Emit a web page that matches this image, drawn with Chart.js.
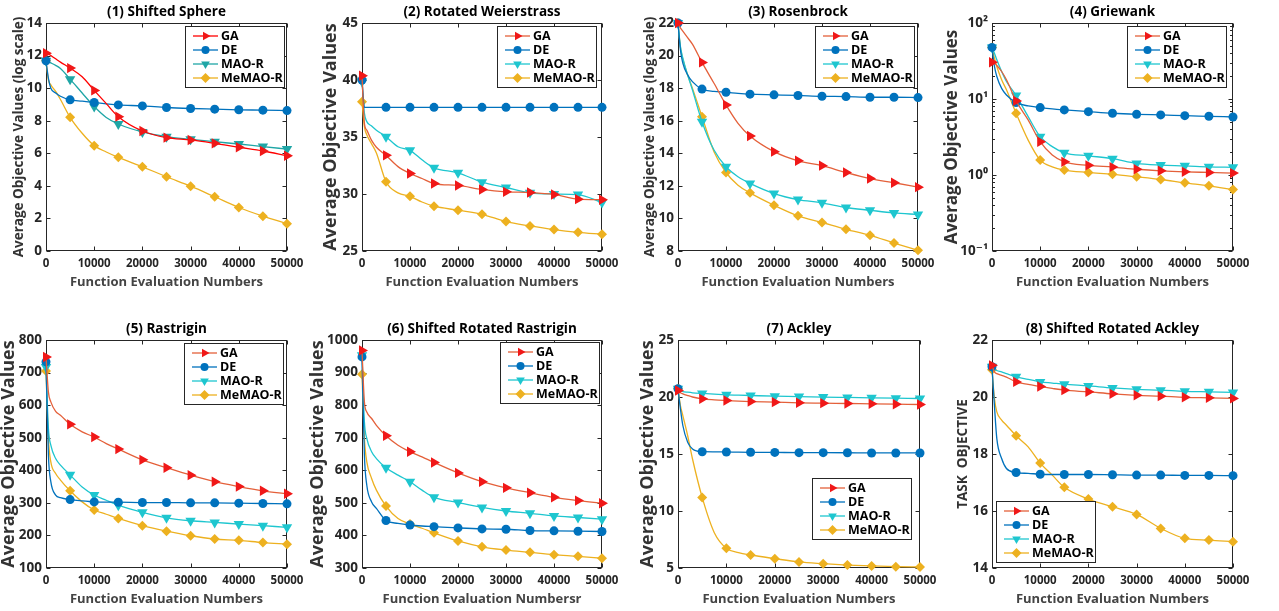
<!DOCTYPE html>
<html>
<head>
<meta charset="UTF-8">
<title>Convergence curves</title>
<script src="https://cdn.jsdelivr.net/npm/chart.js"></script>
<style>
  body { margin: 0; background: #fff; width: 1279px; height: 611px; position: relative; overflow: hidden; }
  .cell { position: absolute; }
</style>
</head>
<body>
<script>
// x positions (function evaluations); markers every 5000
const evals = [0, 500, 1000, 2000, 3000, 5000, 7500, 10000, 12500, 15000, 20000, 25000, 30000, 35000, 40000, 45000, 50000];
const methods = ['GA', 'DE', 'MAO-R', 'MeMAO-R'];
const xTicks = [0, 10000, 20000, 30000, 40000, 50000];
const logTickLabels = ['10⁻¹', '10⁰', '10¹', '10²'];

// (1) Shifted Sphere
const sphereGA    = [12.15, 12.1, 12.0, 11.8, 11.6, 11.23, 10.7, 9.86, 9.05, 8.25, 7.37, 6.96, 6.82, 6.61, 6.37, 6.14, 5.85];
const sphereDE    = [11.68, 10.6, 10.0, 9.7, 9.5, 9.28, 9.2, 9.12, 9.04, 8.97, 8.91, 8.81, 8.75, 8.71, 8.67, 8.65, 8.62];
const sphereMAO   = [11.68, 11.62, 11.55, 11.4, 11.2, 10.55, 9.7, 8.87, 8.2, 7.8, 7.31, 7.02, 6.86, 6.71, 6.57, 6.41, 6.26];
const sphereMeMAO = [11.68, 10.5, 10.2, 9.8, 9.3, 8.21, 7.23, 6.47, 6.08, 5.75, 5.17, 4.56, 3.98, 3.33, 2.67, 2.14, 1.68];

// (2) Rotated Weierstrass
const weierGA    = [40.37, 36.2, 35.6, 34.7, 34.1, 33.39, 32.4, 31.8, 31.36, 30.92, 30.75, 30.4, 30.19, 30.13, 29.96, 29.55, 29.5];
const weierDE    = [40.0, 37.6, 37.6, 37.6, 37.6, 37.6, 37.6, 37.6, 37.6, 37.6, 37.6, 37.6, 37.6, 37.6, 37.6, 37.6, 37.6];
const weierMAO   = [39.87, 37.1, 36.35, 35.97, 35.6, 35.03, 34.15, 33.83, 33.0, 32.3, 31.86, 31.04, 30.57, 30.1, 30.0, 29.95, 29.25];
const weierMeMAO = [38.1, 35.9, 35.2, 34.4, 33.6, 31.07, 30.1, 29.8, 29.3, 28.93, 28.58, 28.22, 27.58, 27.2, 26.88, 26.64, 26.47];

// (3) Rosenbrock
const rosenGA    = [22.0, 21.7, 21.5, 21.1, 20.7, 19.58, 18.3, 16.97, 15.84, 15.06, 14.1, 13.54, 13.24, 12.82, 12.45, 12.19, 11.92];
const rosenDE    = [22.0, 20.36, 19.54, 18.82, 18.4, 17.94, 17.8, 17.75, 17.68, 17.63, 17.59, 17.55, 17.5, 17.48, 17.44, 17.44, 17.42];
const rosenMAO   = [22.0, 20.56, 19.85, 18.82, 17.9, 15.94, 14.2, 13.17, 12.56, 12.15, 11.53, 11.16, 10.96, 10.67, 10.5, 10.34, 10.24];
const rosenMeMAO = [22.0, 20.5, 19.78, 18.82, 18.0, 16.25, 14.1, 12.82, 12.04, 11.57, 10.81, 10.16, 9.75, 9.33, 8.96, 8.49, 8.04];

// (4) Griewank (log axis)
const griewGA    = [30.5, 29.5, 27.6, 23.0, 17.9, 9.44, 5.3, 2.74, 1.83, 1.49, 1.34, 1.27, 1.19, 1.135, 1.10, 1.08, 1.06];
const griewDE    = [47.7, 27.0, 19.8, 13.8, 11.3, 8.98, 8.1, 7.71, 7.4, 7.18, 6.82, 6.49, 6.29, 6.17, 6.04, 5.92, 5.8];
const griewMAO   = [47.7, 40.0, 32.8, 23.0, 17.0, 11.1, 5.86, 3.19, 2.36, 1.96, 1.79, 1.64, 1.42, 1.35, 1.32, 1.28, 1.26];
const griewMeMAO = [47.7, 34.5, 26.8, 17.9, 13.2, 6.49, 2.88, 1.57, 1.28, 1.16, 1.08, 1.02, 0.946, 0.873, 0.789, 0.72, 0.644];

// (5) Rastrigin
const rastGA    = [748, 640, 610, 581, 569, 541, 518, 502, 482, 465, 432, 408, 385, 365, 350, 337, 328];
const rastDE    = [733, 446, 365, 324, 316, 310, 306, 303, 302, 302, 301, 301, 300, 300, 299, 298, 297];
const rastMAO   = [717, 528, 477, 436, 416, 386, 349, 324, 308, 293, 271, 254, 245, 240, 235, 230, 225];
const rastMeMAO = [705, 497, 426, 390, 370, 337, 303, 278, 265, 252, 230, 213, 199, 189, 185, 178, 173];

// (6) Shifted Rotated Rastrigin
const srRastGA    = [968, 810, 779, 759, 738, 706, 677, 657, 641, 624, 592, 565, 546, 531, 517, 507, 499];
const srRastDE    = [948, 646, 554, 503, 483, 446, 437, 432, 429, 427, 423, 420, 419, 415, 414, 413, 412];
const srRastMAO   = [953, 749, 698, 657, 636, 608, 585, 565, 539, 517, 501, 486, 475, 468, 460, 455, 450];
const srRastMeMAO = [895, 698, 626, 575, 539, 490, 452, 435, 422, 408, 383, 365, 355, 348, 341, 336, 330];

// (7) Ackley
const ackGA    = [20.57, 20.38, 20.28, 20.13, 20.0, 19.84, 19.75, 19.69, 19.64, 19.6, 19.55, 19.49, 19.46, 19.43, 19.4, 19.37, 19.34];
const ackDE    = [20.72, 18.96, 17.5, 16.03, 15.44, 15.2, 15.19, 15.18, 15.16, 15.15, 15.14, 15.12, 15.12, 15.11, 15.09, 15.09, 15.09];
const ackMAO   = [20.72, 20.55, 20.48, 20.42, 20.37, 20.31, 20.25, 20.19, 20.16, 20.13, 20.07, 20.04, 19.99, 19.96, 19.93, 19.9, 19.87];
const ackMeMAO = [20.72, 19.25, 18.37, 16.6, 14.56, 11.19, 8.1, 6.73, 6.35, 6.14, 5.82, 5.53, 5.38, 5.26, 5.18, 5.12, 5.09];

// (8) Shifted Rotated Ackley
const srAckGA    = [21.11, 20.88, 20.82, 20.76, 20.7, 20.53, 20.44, 20.37, 20.3, 20.24, 20.18, 20.11, 20.06, 20.03, 19.99, 19.97, 19.95];
const srAckDE    = [21.06, 19.71, 18.54, 17.84, 17.49, 17.35, 17.32, 17.29, 17.28, 17.28, 17.28, 17.27, 17.26, 17.26, 17.25, 17.25, 17.24];
const srAckMAO   = [21.06, 20.97, 20.93, 20.88, 20.82, 20.71, 20.62, 20.53, 20.49, 20.45, 20.39, 20.32, 20.27, 20.24, 20.2, 20.18, 20.16];
const srAckMeMAO = [20.96, 19.95, 19.48, 19.19, 19.01, 18.64, 18.25, 17.68, 17.26, 16.83, 16.42, 16.15, 15.88, 15.39, 15.04, 14.98, 14.92];

const FONT = "'Open Sans', 'DejaVu Sans', sans-serif";
Chart.defaults.font.family = FONT;

// panel layout: plot = [left, top, right, bottom] in page px, ytx = centre of y title
const panels = [
  { title: '(1) Shifted Sphere', ytitle: 'Average Objective Values (log scale)', yfs: 13.5, ytx: 20,
    plot: [46, 23, 287, 251], y: [0, 14, 2], series: [sphereGA, sphereDE, sphereMAO, sphereMeMAO],
    legend: [185, 26], gaLine: '#FF0000', mao: '#1FA6A6', xtitle: 'Function Evaluation Numbers' },
  { title: '(2) Rotated Weierstrass', ytitle: 'Average Objective Values', yfs: 18, ytx: 331.5,
    plot: [362, 23, 602, 251], y: [25, 45, 5], series: [weierGA, weierDE, weierMAO, weierMeMAO],
    legend: [497, 26], gaLine: '#E4603A', mao: '#1EC6CF', xtitle: 'Function Evaluation Numbers' },
  { title: '(3) Rosenbrock', ytitle: 'Average Objective Values (log scale)', yfs: 13.5, ytx: 650.5,
    plot: [678, 23, 918, 251], y: [8, 22, 2], series: [rosenGA, rosenDE, rosenMAO, rosenMeMAO],
    legend: [815, 26], gaLine: '#E4603A', mao: '#1EC6CF', xtitle: 'Function Evaluation Numbers' },
  { title: '(4) Griewank', ytitle: 'Average Objective Values', yfs: 17, ytx: 952.5, log: true,
    plot: [992, 23, 1233, 251], y: [0.1, 100], series: [griewGA, griewDE, griewMAO, griewMeMAO],
    legend: [1127, 26], gaLine: '#E4603A', mao: '#1EC6CF', xtitle: 'Function Evaluation Numbers' },
  { title: '(5) Rastrigin', ytitle: 'Average Objective Values', yfs: 18, ytx: 9,
    plot: [46, 340, 287, 568], y: [100, 800, 100], series: [rastGA, rastDE, rastMAO, rastMeMAO],
    legend: [184, 343], gaLine: '#E4603A', mao: '#1EC6CF', xtitle: 'Function Evaluation Numbers' },
  { title: '(6) Shifted Rotated Rastrigin', ytitle: 'Average Objective Values', yfs: 18, ytx: 318,
    plot: [362, 340, 602, 568], y: [300, 1000, 100], series: [srRastGA, srRastDE, srRastMAO, srRastMeMAO],
    legend: [500, 342], gaLine: '#E4603A', mao: '#1EC6CF', xtitle: 'Function Evaluation Numbersr' },
  { title: '(7) Ackley', ytitle: 'Average Objective Values', yfs: 18, ytx: 648.5,
    plot: [678, 340, 920, 568], y: [5, 25, 5], series: [ackGA, ackDE, ackMAO, ackMeMAO],
    legend: [812, 478], gaLine: '#E4603A', mao: '#1EC6CF', xtitle: 'Function Evaluation Numbers' },
  { title: '(8) Shifted Rotated Ackley', ytitle: 'TASK  OBJECTIVE', yfs: 13.5, ytx: 964,
    plot: [992, 340, 1233, 568], y: [14, 22, 2], series: [srAckGA, srAckDE, srAckMAO, srAckMeMAO],
    legend: [996, 501], gaLine: '#E4603A', mao: '#1EC6CF', xtitle: 'Function Evaluation Numbers' }
];

function drawMarker(ctx, style, rot, x, y, r, color) {
  ctx.beginPath();
  if (style === 'circle') {
    ctx.arc(x, y, r, 0, Math.PI * 2);
  } else if (style === 'rectRot') {
    ctx.moveTo(x, y - r); ctx.lineTo(x + r, y); ctx.lineTo(x, y + r); ctx.lineTo(x - r, y);
  } else {
    let a = (rot || 0) * Math.PI / 180;
    for (let k = 0; k < 3; k++) {
      const px = x + Math.sin(a) * r, py = y - Math.cos(a) * r;
      if (k === 0) ctx.moveTo(px, py); else ctx.lineTo(px, py);
      a += Math.PI * 2 / 3;
    }
  }
  ctx.closePath();
  ctx.fillStyle = color;
  ctx.fill();
}

// axes box with inward ticks (matlab style)
const framePlugin = {
  id: 'frame',
  beforeDatasetsDraw(chart) {
    const { ctx, chartArea: a, scales } = chart;
    ctx.save();
    ctx.strokeStyle = '#262626';
    ctx.lineWidth = 1;
    const L = Math.round(a.left) + 0.5, R = Math.round(a.right) - 0.5;
    const T = Math.round(a.top) + 0.5, B = Math.round(a.bottom) - 0.5;
    ctx.strokeRect(L, T, R - L, B - T);
    ctx.beginPath();
    scales.x.ticks.forEach(t => {
      const px = Math.round(scales.x.getPixelForValue(t.value)) + 0.5;
      ctx.moveTo(px, B); ctx.lineTo(px, B - 4);
      ctx.moveTo(px, T); ctx.lineTo(px, T + 4);
    });
    scales.y.ticks.forEach(t => {
      const py = Math.round(scales.y.getPixelForValue(t.value)) + 0.5;
      ctx.moveTo(L, py); ctx.lineTo(L + 4, py);
      ctx.moveTo(R, py); ctx.lineTo(R - 4, py);
    });
    if (scales.y.type === 'logarithmic') {
      for (let d = 0.1; d < 100; d *= 10) {
        for (let m = 2; m <= 9; m++) {
          const py = Math.round(scales.y.getPixelForValue(d * m)) + 0.5;
          ctx.moveTo(L, py); ctx.lineTo(L + 2.5, py);
          ctx.moveTo(R, py); ctx.lineTo(R - 2.5, py);
        }
      }
    }
    ctx.stroke();
    ctx.restore();
  }
};

// boxed legend placed inside the axes
const boxLegend = {
  id: 'boxLegend',
  afterDatasetsDraw(chart, args, opts) {
    const ctx = chart.ctx;
    const bx = opts.bx, by = opts.by, w = 99, h = 61;
    ctx.save();
    ctx.fillStyle = '#fff';
    ctx.fillRect(bx, by, w, h);
    ctx.strokeStyle = '#262626';
    ctx.lineWidth = 1;
    ctx.strokeRect(bx + 0.5, by + 0.5, w, h);
    chart.data.datasets.forEach((ds, i) => {
      const y = by + 10 + i * 14;
      ctx.strokeStyle = ds.borderColor;
      ctx.lineWidth = 1.3;
      ctx.beginPath();
      ctx.moveTo(bx + 8, y); ctx.lineTo(bx + 33, y);
      ctx.stroke();
      drawMarker(ctx, ds.pointStyle, ds.pointRotation, bx + 20.5, y, ds.pointStyle === 'circle' ? 4 : 5, ds.pointBackgroundColor);
      ctx.fillStyle = '#000';
      ctx.font = 'bold 12.5px ' + FONT;
      ctx.textBaseline = 'middle';
      ctx.fillText(ds.label, bx + 36, y + 0.5);
    });
    ctx.restore();
  }
};

const markerAt = r => c => (evals[c.dataIndex] % 5000 === 0 ? r : 0);

function makeChart(p) {
  const T = 24, B = 42, R = 24;
  const lh = p.yfs * 1.2;
  const left = Math.floor(p.ytx - lh / 2 - 2);
  const top = p.plot[1] - T;
  const yw = p.plot[0] - left;
  const W = yw + (p.plot[2] - p.plot[0]) + R;
  const H = T + (p.plot[3] - p.plot[1]) + B;

  const div = document.createElement('div');
  div.className = 'cell';
  div.style.left = left + 'px';
  div.style.top = top + 'px';
  const cv = document.createElement('canvas');
  cv.width = W; cv.height = H;
  cv.style.width = W + 'px'; cv.style.height = H + 'px';
  div.appendChild(cv);
  document.body.appendChild(div);

  const styles = [
    { line: p.gaLine, fill: '#F01818', shape: 'triangle', rot: 90, r: 6 },
    { line: '#0072BD', fill: '#0072BD', shape: 'circle', rot: 0, r: 4.5 },
    { line: p.mao, fill: p.mao, shape: 'triangle', rot: 180, r: 6 },
    { line: '#EDB120', fill: '#EDB120', shape: 'rectRot', rot: 0, r: 5 }
  ];

  const datasets = p.series.map((vals, k) => ({
    label: methods[k],
    data: evals.map((x, i) => ({ x: x, y: vals[i] })),
    borderColor: styles[k].line,
    borderWidth: 1.3,
    pointBackgroundColor: styles[k].fill,
    pointBorderColor: styles[k].fill,
    pointBorderWidth: 0,
    pointStyle: styles[k].shape,
    pointRotation: styles[k].rot,
    pointRadius: markerAt(styles[k].r),
    cubicInterpolationMode: 'monotone',
    clip: false
  }));

  const tickFontX = { size: 11.5, weight: 'bold' };
  const tickFontY = { size: 13.5, weight: 'bold' };

  const yScale = p.log ? {
    type: 'logarithmic', min: p.y[0], max: p.y[1],
    afterBuildTicks: s => { s.ticks = [0.1, 1, 10, 100].map(v => ({ value: v })); },
    ticks: { font: tickFontY, color: '#262626', padding: 4,
      callback: v => logTickLabels[Math.round(Math.log10(v)) + 1] }
  } : {
    type: 'linear', min: p.y[0], max: p.y[1],
    ticks: { stepSize: p.y[2], font: tickFontY, color: '#262626', padding: 4, callback: v => String(v) }
  };
  Object.assign(yScale, {
    grid: { display: false, drawTicks: false },
    border: { display: false },
    title: { display: true, text: p.ytitle, color: '#333',
      font: { size: p.yfs, weight: 'bold' }, padding: { top: 2, bottom: 0 } },
    afterFit: s => { s.width = yw; }
  });

  new Chart(cv, {
    type: 'line',
    data: { datasets: datasets },
    plugins: [framePlugin, boxLegend],
    options: {
      responsive: false,
      animation: false,
      events: [],
      layout: { padding: { left: 0, top: 0, right: R, bottom: 0 } },
      scales: {
        x: {
          type: 'linear', min: 0, max: 50000,
          afterBuildTicks: s => { s.ticks = xTicks.map(v => ({ value: v })); },
          ticks: { font: tickFontX, color: '#262626', padding: 6, maxRotation: 0, autoSkip: false, callback: v => String(v) },
          grid: { display: false, drawTicks: false },
          border: { display: false },
          title: { display: true, text: p.xtitle, color: '#444',
            font: { size: 13, weight: 'bold' }, padding: { top: 0, bottom: 3 } },
          afterFit: s => { s.height = B; }
        },
        y: yScale
      },
      plugins: {
        legend: { display: false },
        tooltip: { enabled: false },
        title: { display: true, text: p.title, color: '#000', fullSize: false,
          font: { size: 13.5, weight: 'bold', lineHeight: '16px' }, padding: { top: 5.5, bottom: 2.5 } },
        boxLegend: { bx: p.legend[0] - left, by: p.legend[1] - top }
      }
    }
  });
}

panels.forEach(makeChart);
</script>
</body>
</html>
